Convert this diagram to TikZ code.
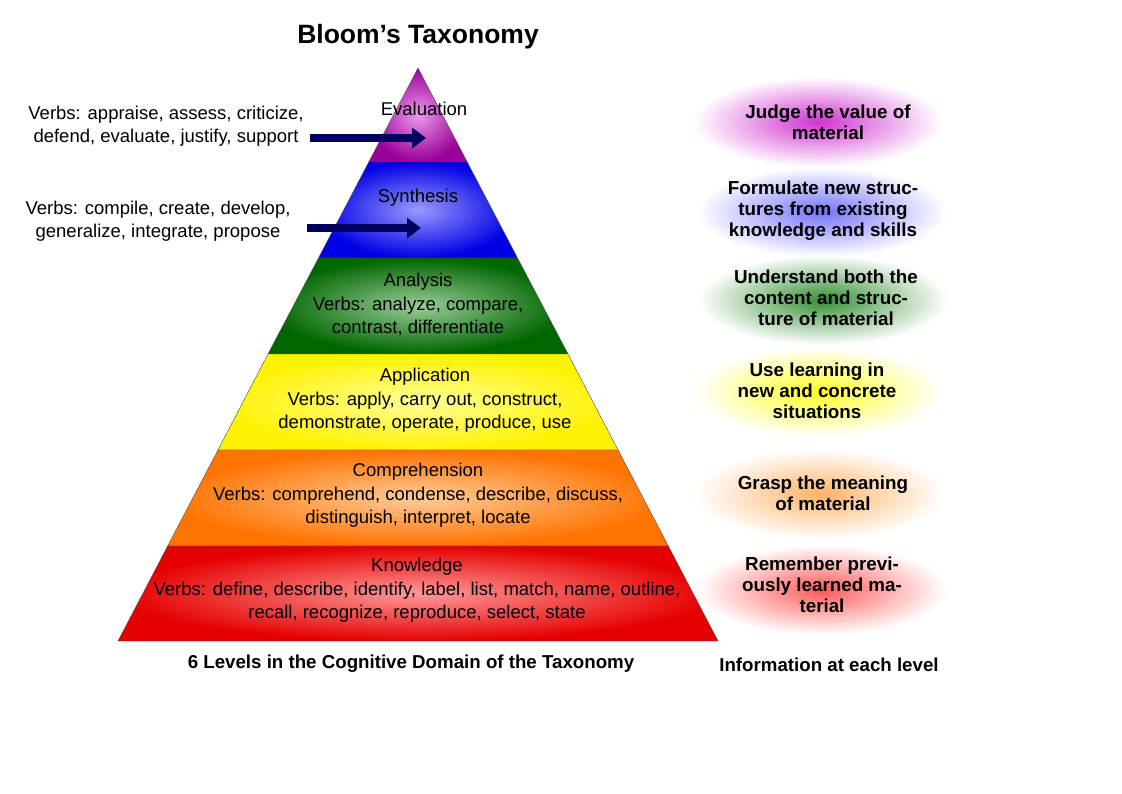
\documentclass[tikz,border=0pt]{standalone}
\usepackage{fontspec}
\setmainfont{Liberation Sans}
\usetikzlibrary{arrows.meta}
\begin{document}
\begin{tikzpicture}[x=1pt,y=-1pt,
  lbl/.style={font=\fontsize{18.5}{23}\selectfont,align=center,inner sep=0},
  info/.style={font=\fontsize{18.8}{21}\selectfont\bfseries,align=center,inner sep=0},
  arr/.style={-{Triangle[length=14pt,width=20pt]},line width=8pt,draw=blue!30!black!90!blue}]
\useasboundingbox (0,0) rectangle (1122,793);
\fill[white] (0,0) rectangle (1122,793);
\def\band#1#2#3#4#5#6{%
  \shade[inner color=#5!40!white,outer color=#6] (#1,#2) -- (836-#1,#2) -- (836-#3,#4) -- (#3,#4) -- cycle;
  \draw[black!70] (#1,#2) -- (836-#1,#2) -- (836-#3,#4) -- (#3,#4) -- cycle;}
\band{368.8}{162}{418}{68}{magenta!60!violet}{violet!80!magenta}
\band{318.5}{258}{368.8}{162}{blue}{blue!90!black}
\band{268}{354}{318.5}{258}{green!50!black}{green!40!black}
\band{218}{450}{268}{354}{yellow}{yellow!90!orange}
\band{167.7}{546}{218}{450}{orange}{orange!90!red}
\band{118}{641}{167.7}{546}{red}{red!90!black}
\node[font=\fontsize{26.5}{30}\selectfont\bfseries] (title) at (418,37) {Bloom’s Taxonomy};
\node[lbl] (ev) at (424,109) {Evaluation};
\node[lbl] (sy) at (418,198) {Synthesis};
\node[lbl] (an) at (418,304) {Analysis\\[1pt]Verbs: analyze, compare,\\contrast, differentiate};
\node[lbl] (ap) at (425,400) {Application\\[1pt]Verbs: apply, carry out, construct,\\demonstrate, operate, produce, use};
\node[lbl] (co) at (418,495) {Comprehension\\[1pt]Verbs: comprehend, condense, describe, discuss,\\distinguish, interpret, locate};
\node[lbl] (kn) at (417,590) {Knowledge\\[1pt]Verbs: define, describe, identify, label, list, match, name, outline,\\recall, recognize, reproduce, select, state};
\node[lbl] (v1) at (166,126) {Verbs: appraise, assess, criticize,\\defend, evaluate, justify, support};
\node[lbl] (v2) at (158,221) {Verbs: compile, create, develop,\\generalize, integrate, propose};
\coordinate (e1) at (426,138);
\coordinate (e2) at (421,228);
\draw[arr] (310,138) -- (e1);
\draw[arr] (307,228) -- (e2);
\node[font=\fontsize{18.7}{20}\selectfont\bfseries] (cap1) at (411,664) {6 Levels in the Cognitive Domain of the Taxonomy};
\node[font=\fontsize{18.7}{20}\selectfont\bfseries] (cap2) at (829,665) {Information at each level};
\def\glow#1#2#3{\shade[inner color=#3,outer color=white] (#1,#2) ellipse (125 and 45);}
\glow{818}{122}{magenta!55!violet!80}
\glow{822}{212}{blue!55}
\glow{823}{300}{green!45!black!80}
\glow{818}{392}{yellow!85}
\glow{820}{494}{orange!60}
\glow{822}{590}{red!65}
\node[info] (i1) at (828,122) {Judge the value of\\material};
\node[info] (i2) at (823,211) {Formulate new struc-\\tures from existing\\knowledge and skills};
\node[info] (i3) at (826,298) {Understand both the\\content and struc-\\ture of material};
\node[info] (i4) at (817,391) {Use learning in\\new and concrete\\situations};
\node[info] (i5) at (823,493) {Grasp the meaning\\of material};
\node[info] (i6) at (822,585) {Remember previ-\\ously learned ma-\\terial};
\end{tikzpicture}
\end{document}
